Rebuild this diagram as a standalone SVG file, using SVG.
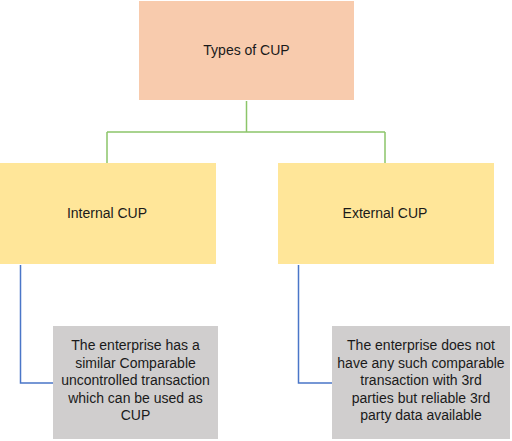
<svg xmlns="http://www.w3.org/2000/svg" width="512" height="441" viewBox="0 0 512 441">
<style>
text{font-family:"Liberation Sans",Arial,sans-serif;font-size:14px;fill:#1a1a1a;text-anchor:middle}
.g{stroke:#8cc56a;stroke-width:1.5;fill:none}
.b{stroke:#4a76c8;stroke-width:1.5;fill:none}
</style>
<rect width="512" height="441" fill="#fff"/>
<g id="connectors">
<path class="g" d="M246.5 101V132M107 132H385M107 132V163M385 132V163"/>
<path class="b" d="M20.5 265V383H53M298.5 265V383H332"/>
</g>
<g id="root"><rect x="139" y="1" width="215" height="99" fill="#f8cbad"/><text x="246.5" y="55">Types of CUP</text></g>
<g id="internal"><rect x="0" y="163" width="216" height="101" fill="#ffe699"/><text x="107" y="218">Internal CUP</text></g>
<g id="external"><rect x="278" y="163" width="216" height="101" fill="#ffe699"/><text x="385" y="218">External CUP</text></g>
<g id="internal-desc"><rect x="53" y="326" width="165" height="113" fill="#d0cece"/>
<text x="135.5" y="350">The enterprise has a</text><text x="135.5" y="367.5">similar Comparable</text><text x="135.5" y="385">uncontrolled transaction</text><text x="135.5" y="402.5">which can be used as</text><text x="135.5" y="420">CUP</text></g>
<g id="external-desc"><rect x="332" y="326" width="178" height="113" fill="#d0cece"/>
<text x="421" y="350">The enterprise does not</text><text x="421" y="367.5">have any such comparable</text><text x="421" y="385">transaction with 3rd</text><text x="421" y="402.5">parties but reliable 3rd</text><text x="421" y="420">party data available</text></g>
</svg>
